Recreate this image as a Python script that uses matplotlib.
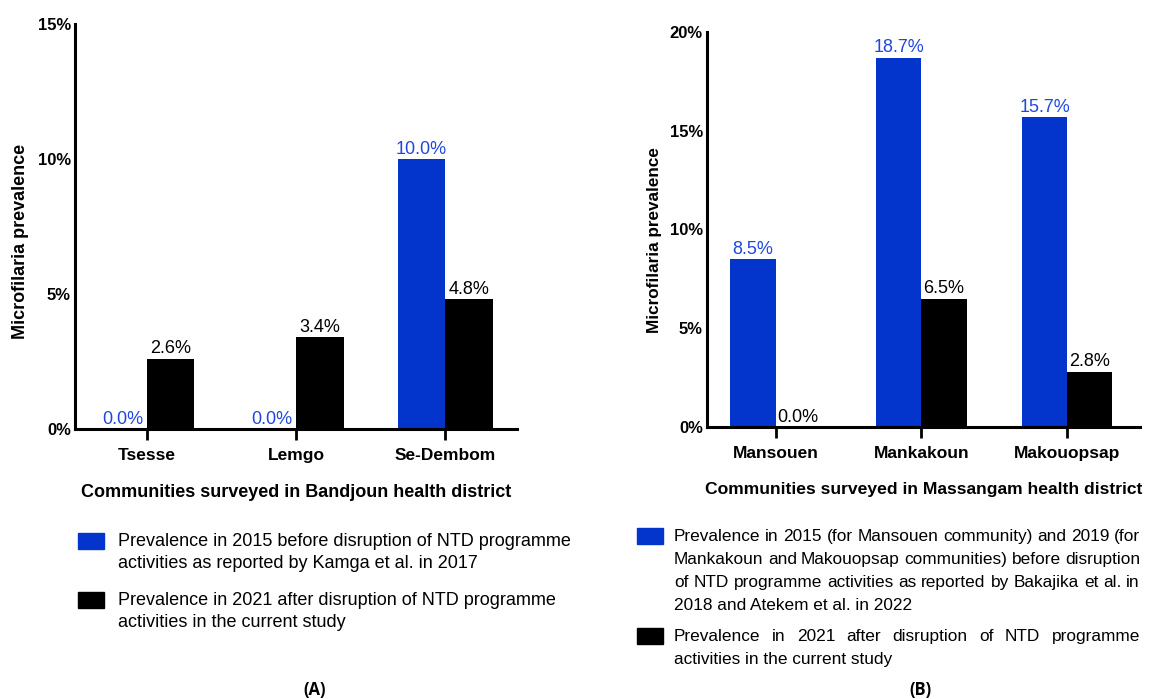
import numpy as np
import matplotlib
matplotlib.use("Agg")
import matplotlib.pyplot as plt
from matplotlib.patches import Rectangle

plt.rcParams['font.family'] = ['Liberation Sans', 'DejaVu Sans']

# Data
bandjoun_sites = ['Tsesse', 'Lemgo', 'Se-Dembom']
bandjoun_before = [0.0, 0.0, 10.0]
bandjoun_after = [2.6, 3.4, 4.8]

massangam_sites = ['Mansouen', 'Mankakoun', 'Makouopsap']
massangam_before = [8.5, 18.7, 15.7]
massangam_after = [0.0, 6.5, 2.8]

legend_a = [['Prevalence in 2015 before disruption of NTD programme',
             'activities as reported by Kamga et al. in 2017'],
            ['Prevalence in 2021 after disruption of NTD programme',
             'activities in the current study']]
legend_b = [['Prevalence in 2015 (for Mansouen community) and 2019 (for',
             'Mankakoun and Makouopsap communities) before disruption',
             'of NTD programme activities as reported by Bakajika et al. in',
             '2018 and Atekem et al. in 2022'],
            ['Prevalence in 2021 after disruption of NTD programme',
             'activities in the current study']]

BLUE = '#0335cc'
BLUE_TXT = '#1f47e0'
W, H = 1154, 699

fig = plt.figure(figsize=(W / 100, H / 100), dpi=100)
renderer = fig.canvas.get_renderer()


def px_axes(x0, y0, x1, y1):
    return fig.add_axes([x0 / W, 1 - y1 / H, (x1 - x0) / W, (y1 - y0) / H])


def draw_panel(ax, sites, before, after, ymax, step, xlim, xlabel, bw, ylfs, xlfs):
    x = np.arange(len(sites))
    b1 = ax.bar(x - bw / 2, before, bw, color=BLUE)
    b2 = ax.bar(x + bw / 2, after, bw, color='black')
    ax.bar_label(b1, labels=['%.1f%%' % v for v in before], padding=1,
                 color=BLUE_TXT, fontsize=13)
    ax.bar_label(b2, labels=['%.1f%%' % v for v in after], padding=1,
                 color='black', fontsize=13)
    ax.set_ylim(0, ymax)
    ax.set_xlim(*xlim)
    yt = np.arange(0, ymax + 0.01, step)
    ax.set_yticks(yt)
    ax.set_yticklabels(['%d%%' % v for v in yt], fontweight='bold', fontsize=12)
    ax.set_xticks(x)
    ax.set_xticklabels(sites, fontweight='bold', fontsize=12.5)
    ax.tick_params(axis='y', length=0, pad=3)
    ax.tick_params(axis='x', length=8, width=2, pad=6)
    for s in ['top', 'right']:
        ax.spines[s].set_visible(False)
    for s in ['left', 'bottom']:
        ax.spines[s].set_linewidth(2.2)
    ax.set_ylabel('Microfilaria prevalence', fontweight='bold', fontsize=ylfs)
    ax.set_xlabel(xlabel, fontweight='bold', fontsize=xlfs)


def put_line(line, x0, x1, y, justify, fs):
    # one line of legend text, optionally stretched to the right edge
    yb = 1 - (y + 0.4 * fs) / H   # baseline below the line centre
    if not justify:
        fig.text(x0 / W, yb, line, fontsize=fs, va='baseline', ha='left')
        return
    words = line.split(' ')
    widths = []
    for w in words:
        t = fig.text(0, 0, w, fontsize=fs)
        widths.append(t.get_window_extent(renderer).width)
        t.remove()
    gap = (x1 - x0 - sum(widths)) / (len(words) - 1)
    x = x0
    for w, wd in zip(words, widths):
        fig.text(x / W, yb, w, fontsize=fs, va='baseline', ha='left')
        x += wd + gap


def draw_legend(x_patch, x_text, x_right, rows, entries, spacing, justify, fs):
    colors = [BLUE, 'black']
    for (y, lines, c) in zip(rows, entries, colors):
        fig.patches.append(Rectangle((x_patch / W, 1 - (y + 8) / H), 26 / W, 16 / H,
                                     transform=fig.transFigure, color=c))
        for i, line in enumerate(lines):
            put_line(line, x_text, x_right, y + i * spacing,
                     justify and i < len(lines) - 1, fs)


# Panel A
ax1 = px_axes(75, 24, 517, 429)
draw_panel(ax1, bandjoun_sites, bandjoun_before, bandjoun_after, 15, 5,
           (-0.48, 2.48), 'Communities surveyed in Bandjoun health district',
           0.32, 13, 13)
ax1.yaxis.set_label_coords(-0.104, 0.464)
ax1.xaxis.set_label_coords(0.5, -0.136)

# Panel B
ax2 = px_axes(707, 32, 1140, 427)
draw_panel(ax2, massangam_sites, massangam_before, massangam_after, 20, 5,
           (-0.47, 2.5), 'Communities surveyed in Massangam health district',
           0.31, 12.3, 12.6)
ax2.yaxis.set_label_coords(-0.104, 0.473)
ax2.xaxis.set_label_coords(0.5, -0.139)

draw_legend(78, 118, 570, [541, 600], legend_a, 22, False, 13)
draw_legend(637, 674, 1140, [536, 636], legend_b, 23, True, 12.4)

fig.text(315 / W, 1 - 690 / H, '(A)', fontsize=12, fontweight='bold',
         family='Open Sans', ha='center', va='center')
fig.text(920 / W, 1 - 690 / H, '(B)', fontsize=12, fontweight='bold',
         family='Open Sans', ha='center', va='center')

fig.savefig('out.png', dpi=100)
